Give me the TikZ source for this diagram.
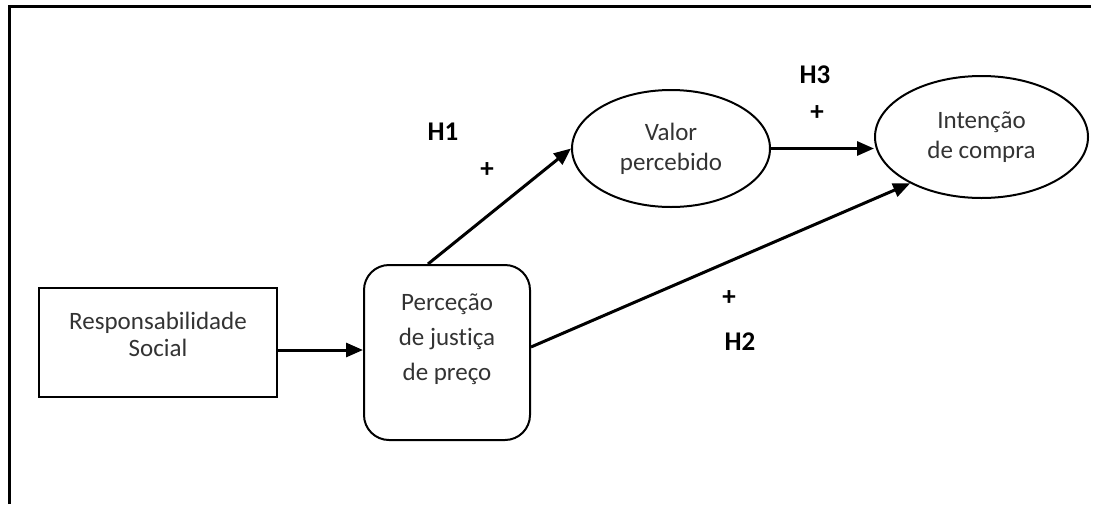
\documentclass[tikz,border=0pt]{standalone}
\usepackage{fontspec}
\setmainfont{Carlito}[Ligatures=NoCommon]
\usetikzlibrary{shapes.geometric,arrows.meta}

\begin{document}
\begin{tikzpicture}[x=1pt,y=-1pt,
    txt/.style={font=\fontsize{25}{30}\selectfont, text=black!80, align=center, inner sep=0pt},
    sqbox/.style={txt, draw, line width=2pt},
    oval/.style={txt, draw, ellipse, line width=2pt},
    hyp/.style={font=\fontsize{27}{30}\selectfont\bfseries, inner sep=0pt},
    arr/.style={line width=3pt, -{Triangle[length=17pt,width=14pt]}}]
       \useasboundingbox (0,0) rectangle (1097,504);
       \draw[line width=3pt] (9,504) -- (9,6) -- (1091,6);

       \node(rs)[sqbox, font=\fontsize{25}{27}\selectfont, minimum width=238pt, text height=68pt, text depth=41pt] at (158,342.5) {Responsabilidade\\Social};
       \node(pj)[sqbox, font=\fontsize{25}{35}\selectfont, rounded corners=25pt, minimum width=166pt, text height=115pt, text depth=60pt] at (447,352.5) {Perceção\\de justiça\\de preço};

       \draw[arr] ([yshift=-7.5pt]rs.east) -- ([yshift=-7.5pt]rs.east -| pj.west);

       \node(vp)[oval, minimum width=198pt, minimum height=117pt] at (671,148.5) {Valor\\percebido};
       \node(ic)[oval, minimum width=213pt, minimum height=122pt] at (981.5,137) {Intenção\\de compra};

       \draw[arr] ([xshift=-19pt]pj.north) -- (vp.west);
       \draw[arr] (vp.east) -- (vp.east -| ic.west);
       \draw[arr] ([yshift=5.5pt]pj.east) -- (ic.213);

       \node(h1)[hyp] at (443,132) {H1};
       \node(h1s)[hyp] at (487,170) {+};
       \node(h3)[hyp] at (815,75) {H3};
       \node(h3s)[hyp] at (817,113) {+};
       \node(h2s)[hyp] at (729,298) {+};
       \node(h2)[hyp] at (740,342) {H2};

     \end{tikzpicture}
\end{document}
